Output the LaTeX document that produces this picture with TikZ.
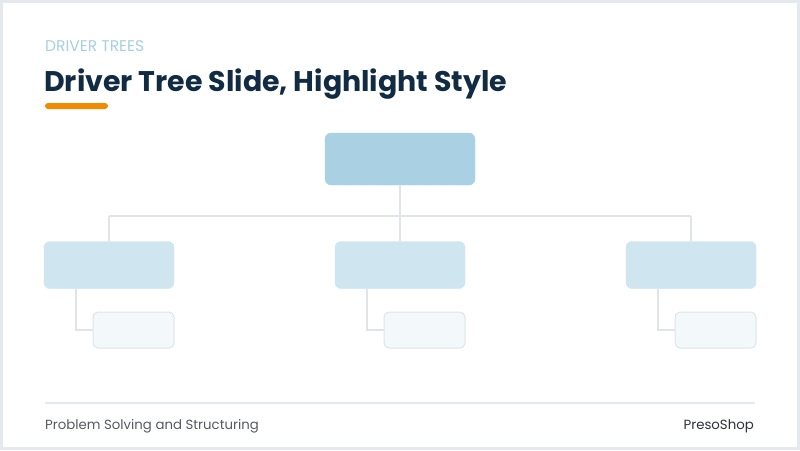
\documentclass[tikz,border=0pt]{standalone}
\usepackage{fontspec}
\setmainfont{Poppins}
\usetikzlibrary{positioning}

\xdefinecolor{frame}{RGB}{228, 233, 238}
\xdefinecolor{kicker}{RGB}{168, 208, 222}
\xdefinecolor{navy}{RGB}{16, 43, 66}
\xdefinecolor{accent}{RGB}{240, 138, 0}
\xdefinecolor{rootfill}{RGB}{169, 209, 227}
\xdefinecolor{midfill}{RGB}{207, 229, 239}
\xdefinecolor{leaffill}{RGB}{243, 248, 251}
\xdefinecolor{leafline}{RGB}{221, 228, 234}
\xdefinecolor{wire}{RGB}{224, 228, 233}
\xdefinecolor{footgray}{RGB}{85, 90, 98}
\xdefinecolor{brandgray}{RGB}{45, 50, 58}

\tikzset{
    rootbox/.style={rectangle, rounded corners=6pt, fill=rootfill, draw=rootfill, minimum width=150pt, minimum height=52pt, inner sep=0pt},
    midbox/.style={rectangle, rounded corners=6pt, fill=midfill, draw=midfill, minimum width=130pt, minimum height=47pt, inner sep=0pt},
    leafbox/.style={rectangle, rounded corners=5pt, fill=leaffill, draw=leafline, line width=1pt, minimum width=81pt, minimum height=36pt, inner sep=0pt},
    wirestyle/.style={draw=wire, line width=2pt},
}

\begin{document}
\begin{tikzpicture}[x=1pt, y=-1pt]
            % Slide frame
            \useasboundingbox (0,0) rectangle (800,450);
            \draw[frame, line width=3pt, fill=white] (1.5,1.5) rectangle (798.5,448.5);

            % Heading
            \node[anchor=base west, inner sep=0pt, text=kicker, font=\fontsize{15.5}{18}\selectfont] (Kicker) at (45,51.5) {DRIVER TREES};
            \node[anchor=base west, inner sep=0pt, text=navy, font=\fontsize{28.4}{32}\selectfont\bfseries] (Title) at (44,91) {Driver Tree Slide, Highlight Style};
            \fill[accent, rounded corners=3pt] (45,103) rectangle (108,109);

            % Top of the tree
            \node[rootbox] (Root) at (400,159) {};

            % Second level and the leaf under each box
            \foreach \x [count=\i] in {109, 400, 691} {
                    \node[midbox] (Mid\i) at (\x,265) {};
                    \node[leafbox] (Leaf\i) at (\x+24.5,330) {};
                    \coordinate (Drop\i) at (\x,216);
                    \coordinate (Stem\i) at (\x-33,289);
                    \draw[wirestyle] (Drop\i) -- (Mid\i.north);
                    \draw[wirestyle] (Stem\i) |- (Leaf\i.west);
                }
            \draw[wirestyle] (Drop1) -- (Drop3);
            \draw[wirestyle] (Root.south) -- (Drop2);

            % Footer
            \coordinate (FootL) at (45,403);
            \coordinate (FootR) at (755,403);
            \draw[frame, line width=2pt] (FootL) -- (FootR);
            \node[anchor=base west, inner sep=0pt, text=footgray, font=\fontsize{13.3}{15}\selectfont] (Topic) at (45,429) {Problem Solving and Structuring};
            \node[anchor=base east, inner sep=0pt, text=brandgray, font=\fontsize{13.3}{15}\selectfont] (Brand) at (754,429) {PresoShop};
        \end{tikzpicture}
\end{document}
